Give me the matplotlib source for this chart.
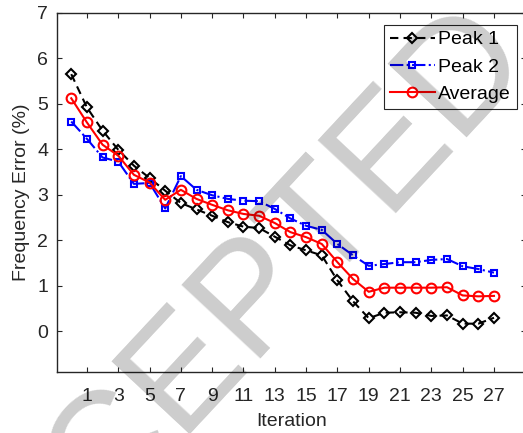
import numpy as np
import matplotlib.pyplot as plt

plt.rcParams['font.family'] = ['Liberation Sans', 'DejaVu Sans']

iteration = list(range(28))
peak1 = [5.65, 4.92, 4.41, 3.99, 3.64, 3.37, 3.09, 2.82, 2.68, 2.54, 2.40, 2.30, 2.27, 2.08,
         1.89, 1.78, 1.67, 1.12, 0.66, 0.29, 0.41, 0.42, 0.41, 0.34, 0.35, 0.17, 0.17, 0.30]
peak2 = [4.61, 4.23, 3.82, 3.73, 3.24, 3.26, 2.70, 3.41, 3.11, 2.99, 2.91, 2.87, 2.86, 2.69,
         2.48, 2.32, 2.23, 1.92, 1.67, 1.44, 1.48, 1.52, 1.52, 1.57, 1.59, 1.43, 1.37, 1.29]
average = [5.12, 4.59, 4.10, 3.86, 3.44, 3.27, 2.89, 3.11, 2.91, 2.78, 2.66, 2.58, 2.54, 2.38,
           2.18, 2.07, 1.92, 1.52, 1.15, 0.87, 0.96, 0.96, 0.96, 0.96, 0.97, 0.79, 0.77, 0.78]
xticks = list(range(1, 28, 2))
yticks = list(range(0, 8))

ax_col = '#262626'

fig = plt.figure(figsize=(5.23, 4.33), dpi=100)
ax = fig.add_axes([0.1084, 0.140, 0.8975, 0.8307])

ax.plot(iteration, peak1, color='k', ls=(0, (4, 2.5)), lw=1.5, marker='D', ms=5.2,
        mfc='none', mew=1.5, label='Peak 1')
ax.plot(iteration, peak2, color='b', ls='-.', lw=1.5, marker='s', ms=5,
        mfc='none', mew=1.5, label='Peak 2')
ax.plot(iteration, average, color='r', ls='-', lw=1.5, marker='o', ms=7,
        mfc='none', mew=1.5, label='Average')

ax.set_xlim(-0.93, 29.05)
ax.set_ylim(-0.9, 7)
ax.set_xticks(xticks)
ax.set_yticks(yticks)
ax.tick_params(direction='in', length=3.5, width=0.8, top=True, right=True,
               labelsize=14, colors=ax_col)
ax.tick_params(axis='x', pad=11)
ax.tick_params(axis='y', pad=6)
for s in ax.spines.values():
    s.set_color(ax_col)
    s.set_linewidth(1.0)

ax.set_xlabel('Iteration', fontsize=14, color=ax_col, labelpad=6)
ax.set_ylabel('Frequency Error (%)', fontsize=14, color=ax_col, labelpad=5)

leg = ax.legend(loc='upper right', fontsize=14, handlelength=2.3, handletextpad=0.2,
                labelspacing=0.5, borderpad=0.3, borderaxespad=0, fancybox=False,
                framealpha=1, edgecolor=ax_col, bbox_to_anchor=(0.9806, 0.9658))
leg.get_frame().set_linewidth(0.8)

# watermark over the page
fig.text(0.415, 0.203, 'ACCEPTED', fontsize=112, rotation=47, rotation_mode='anchor',
         ha='center', va='center', color='k', alpha=0.2, zorder=10)

fig.savefig('out.png', dpi=100)
